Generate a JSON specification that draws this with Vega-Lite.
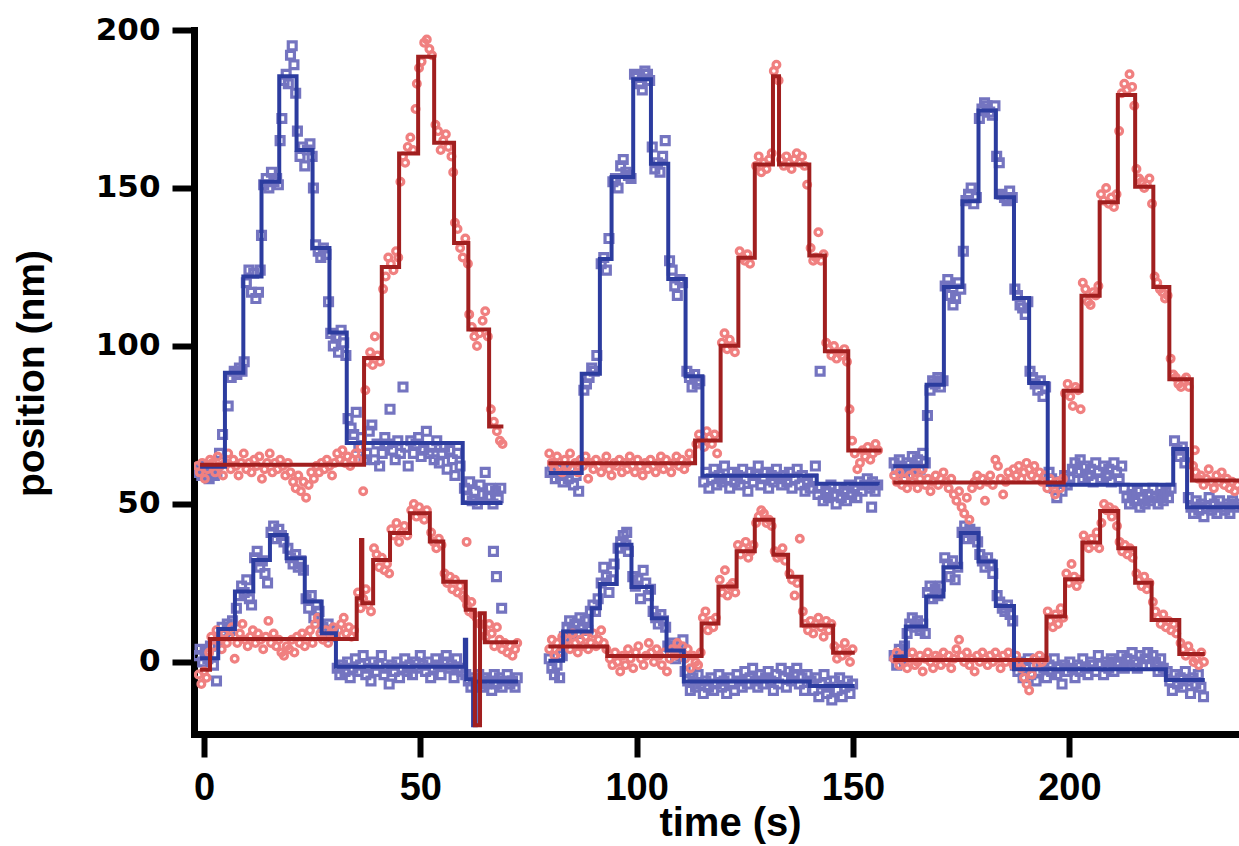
{
"$schema":"https://vega.github.io/schema/vega-lite/v6.json",
"width":1045,"height":704,
"autosize":{"type":"none"},
"padding":{"left":194,"top":30,"right":0,"bottom":112},
"background":"white",
"config":{"view":{"stroke":null}},
"datasets":{
"pts":[
{"t":-1.5,"y":60,"s":"b"},{"t":-1,"y":61,"s":"b"},{"t":-0.5,"y":59,"s":"b"},{"t":0,"y":62,"s":"b"},{"t":0.6,"y":60,"s":"b"},{"t":1.2,"y":58,"s":"b"},{"t":1.8,"y":61,"s":"b"},{"t":2.4,"y":59,"s":"b"},{"t":3,"y":60,"s":"b"},{"t":3.6,"y":66,"s":"b"},{"t":4.3,"y":72,"s":"b"},
{"t":5.6,"y":81,"s":"b"},{"t":6.3,"y":90,"s":"b"},{"t":7,"y":92,"s":"b"},{"t":7.6,"y":91,"s":"b"},{"t":8.2,"y":93,"s":"b"},{"t":8.8,"y":92,"s":"b"},{"t":9.3,"y":95,"s":"b"},
{"t":9.8,"y":120,"s":"b"},{"t":10.4,"y":124,"s":"b"},{"t":11,"y":117,"s":"b"},{"t":11.5,"y":123,"s":"b"},{"t":12,"y":115,"s":"b"},{"t":12.6,"y":117,"s":"b"},{"t":13,"y":124,"s":"b"},{"t":13.3,"y":135,"s":"b"},
{"t":13.8,"y":151,"s":"b"},{"t":14.4,"y":153,"s":"b"},{"t":15,"y":150,"s":"b"},{"t":15.6,"y":155,"s":"b"},{"t":16.2,"y":152,"s":"b"},{"t":16.8,"y":153,"s":"b"},{"t":17.2,"y":151,"s":"b"},
{"t":17.6,"y":165,"s":"b"},{"t":18,"y":172,"s":"b"},{"t":18.5,"y":184,"s":"b"},{"t":19,"y":186,"s":"b"},{"t":19.5,"y":183,"s":"b"},{"t":20,"y":192,"s":"b"},{"t":20.4,"y":195,"s":"b"},{"t":20.8,"y":189,"s":"b"},{"t":21.2,"y":180,"s":"b"},
{"t":21.6,"y":168,"s":"b"},{"t":22.2,"y":160,"s":"b"},{"t":22.8,"y":163,"s":"b"},{"t":23.3,"y":157,"s":"b"},{"t":23.9,"y":162,"s":"b"},{"t":24.5,"y":164,"s":"b"},{"t":25,"y":160,"s":"b"},
{"t":25.3,"y":150,"s":"b"},{"t":25.8,"y":132,"s":"b"},{"t":26.4,"y":130,"s":"b"},{"t":27,"y":128,"s":"b"},{"t":27.6,"y":131,"s":"b"},{"t":28.2,"y":129,"s":"b"},{"t":28.8,"y":114,"s":"b"},
{"t":29.3,"y":104,"s":"b"},{"t":29.9,"y":100,"s":"b"},{"t":30.5,"y":103,"s":"b"},{"t":31.1,"y":98,"s":"b"},{"t":31.7,"y":105,"s":"b"},{"t":32.3,"y":101,"s":"b"},{"t":32.8,"y":97,"s":"b"},
{"t":33.3,"y":77,"s":"b"},{"t":34,"y":74,"s":"b"},{"t":34.6,"y":72,"s":"b"},{"t":35.2,"y":79,"s":"b"},{"t":35.8,"y":68,"s":"b"},{"t":36.4,"y":71,"s":"b"},{"t":37,"y":64,"s":"b"},{"t":37.6,"y":66,"s":"b"},{"t":38.2,"y":73,"s":"b"},{"t":38.8,"y":75,"s":"b"},{"t":39.4,"y":64,"s":"b"},{"t":40,"y":69,"s":"b"},{"t":40.6,"y":62,"s":"b"},{"t":41.2,"y":66,"s":"b"},{"t":41.8,"y":71,"s":"b"},{"t":42.4,"y":69,"s":"b"},{"t":43,"y":80,"s":"b"},{"t":43.6,"y":67,"s":"b"},{"t":44.2,"y":64,"s":"b"},{"t":44.8,"y":70,"s":"b"},{"t":45.4,"y":66,"s":"b"},{"t":46,"y":87,"s":"b"},{"t":46.6,"y":68,"s":"b"},{"t":47.2,"y":62,"s":"b"},{"t":47.8,"y":70,"s":"b"},{"t":48.4,"y":66,"s":"b"},{"t":49,"y":69,"s":"b"},{"t":49.6,"y":71,"s":"b"},{"t":50.2,"y":65,"s":"b"},{"t":50.8,"y":67,"s":"b"},{"t":51.4,"y":73,"s":"b"},{"t":52,"y":66,"s":"b"},{"t":52.6,"y":68,"s":"b"},{"t":53.2,"y":64,"s":"b"},{"t":53.8,"y":70,"s":"b"},{"t":54.4,"y":63,"s":"b"},{"t":55,"y":66,"s":"b"},{"t":55.6,"y":68,"s":"b"},{"t":56.2,"y":61,"s":"b"},{"t":56.8,"y":67,"s":"b"},{"t":57.4,"y":64,"s":"b"},{"t":58,"y":59,"s":"b"},{"t":58.6,"y":66,"s":"b"},{"t":59.2,"y":62,"s":"b"},
{"t":60.2,"y":55,"s":"b"},{"t":60.8,"y":52,"s":"b"},{"t":61.4,"y":57,"s":"b"},{"t":62,"y":51,"s":"b"},{"t":62.6,"y":54,"s":"b"},{"t":63.2,"y":50,"s":"b"},{"t":63.8,"y":56,"s":"b"},{"t":64.4,"y":53,"s":"b"},{"t":65,"y":60,"s":"b"},{"t":65.6,"y":52,"s":"b"},{"t":66.2,"y":55,"s":"b"},{"t":66.8,"y":50,"s":"b"},{"t":67.4,"y":54,"s":"b"},{"t":68,"y":52,"s":"b"},{"t":68.6,"y":55,"s":"b"},
{"t":-1.5,"y":2,"s":"b"},{"t":-0.9,"y":4,"s":"b"},{"t":-0.3,"y":0,"s":"b"},{"t":0.3,"y":3,"s":"b"},{"t":0.9,"y":1,"s":"b"},{"t":1.5,"y":5,"s":"b"},{"t":2.2,"y":-1,"s":"b"},{"t":2.9,"y":-6,"s":"b"},
{"t":3.6,"y":7,"s":"b"},{"t":4.2,"y":11,"s":"b"},{"t":4.8,"y":9,"s":"b"},{"t":5.4,"y":12,"s":"b"},{"t":6,"y":10,"s":"b"},{"t":6.6,"y":13,"s":"b"},
{"t":7.5,"y":17,"s":"b"},{"t":8.1,"y":21,"s":"b"},{"t":8.7,"y":24,"s":"b"},{"t":9.3,"y":22,"s":"b"},{"t":9.9,"y":26,"s":"b"},{"t":10.5,"y":20,"s":"b"},{"t":11,"y":18,"s":"b"},
{"t":11.7,"y":33,"s":"b"},{"t":12.3,"y":35,"s":"b"},{"t":12.9,"y":30,"s":"b"},{"t":13.5,"y":32,"s":"b"},{"t":14.1,"y":28,"s":"b"},{"t":14.7,"y":25,"s":"b"},
{"t":15.5,"y":41,"s":"b"},{"t":16.1,"y":43,"s":"b"},{"t":16.7,"y":39,"s":"b"},{"t":17.3,"y":42,"s":"b"},{"t":17.9,"y":40,"s":"b"},{"t":18.5,"y":38,"s":"b"},
{"t":19.4,"y":36,"s":"b"},{"t":20,"y":33,"s":"b"},{"t":20.6,"y":31,"s":"b"},{"t":21.2,"y":34,"s":"b"},{"t":21.8,"y":30,"s":"b"},{"t":22.4,"y":32,"s":"b"},{"t":23,"y":29,"s":"b"},
{"t":23.6,"y":20,"s":"b"},{"t":24.2,"y":17,"s":"b"},{"t":24.8,"y":21,"s":"b"},{"t":25.4,"y":14,"s":"b"},{"t":26,"y":18,"s":"b"},{"t":26.6,"y":16,"s":"b"},
{"t":27.5,"y":11,"s":"b"},{"t":28.1,"y":9,"s":"b"},{"t":28.7,"y":12,"s":"b"},{"t":29.3,"y":8,"s":"b"},{"t":29.9,"y":10,"s":"b"},
{"t":30.8,"y":-2,"s":"b"},{"t":31.4,"y":-4,"s":"b"},{"t":32,"y":-1,"s":"b"},{"t":32.6,"y":-3,"s":"b"},{"t":33.2,"y":0,"s":"b"},{"t":33.8,"y":-5,"s":"b"},{"t":34.4,"y":-2,"s":"b"},{"t":35,"y":1,"s":"b"},{"t":35.6,"y":-3,"s":"b"},{"t":36.2,"y":-1,"s":"b"},{"t":36.8,"y":2,"s":"b"},{"t":37.4,"y":-4,"s":"b"},{"t":38,"y":-2,"s":"b"},{"t":38.6,"y":-6,"s":"b"},{"t":39.2,"y":0,"s":"b"},{"t":39.8,"y":-3,"s":"b"},{"t":40.4,"y":-1,"s":"b"},{"t":41,"y":2,"s":"b"},{"t":41.6,"y":-4,"s":"b"},{"t":42.2,"y":-2,"s":"b"},{"t":42.8,"y":-7,"s":"b"},{"t":43.4,"y":-1,"s":"b"},{"t":44,"y":-3,"s":"b"},{"t":44.6,"y":0,"s":"b"},{"t":45.2,"y":-5,"s":"b"},{"t":45.8,"y":-2,"s":"b"},{"t":46.4,"y":1,"s":"b"},{"t":47,"y":-3,"s":"b"},{"t":47.6,"y":-1,"s":"b"},{"t":48.2,"y":-4,"s":"b"},{"t":48.8,"y":0,"s":"b"},{"t":49.4,"y":-2,"s":"b"},{"t":50,"y":2,"s":"b"},{"t":50.6,"y":-1,"s":"b"},{"t":51.2,"y":-3,"s":"b"},{"t":51.8,"y":0,"s":"b"},{"t":52.4,"y":-5,"s":"b"},{"t":53,"y":-2,"s":"b"},{"t":53.6,"y":1,"s":"b"},{"t":54.2,"y":-1,"s":"b"},{"t":54.8,"y":-4,"s":"b"},{"t":55.4,"y":0,"s":"b"},{"t":56,"y":2,"s":"b"},{"t":56.6,"y":-2,"s":"b"},{"t":57.2,"y":-1,"s":"b"},{"t":57.8,"y":-5,"s":"b"},{"t":58.4,"y":1,"s":"b"},{"t":59,"y":-2,"s":"b"},{"t":59.6,"y":-3,"s":"b"},
{"t":60.5,"y":-4,"s":"b"},{"t":61.1,"y":-6,"s":"b"},{"t":61.7,"y":-8,"s":"b"},{"t":62.3,"y":-5,"s":"b"},{"t":62.9,"y":-7,"s":"b"},{"t":63.5,"y":-4,"s":"b"},{"t":64.1,"y":-8,"s":"b"},{"t":64.7,"y":-5,"s":"b"},{"t":65.3,"y":-7,"s":"b"},{"t":65.9,"y":-6,"s":"b"},{"t":66.5,"y":-9,"s":"b"},{"t":66.9,"y":35,"s":"b"},{"t":67.1,"y":-4,"s":"b"},{"t":67.6,"y":27,"s":"b"},{"t":67.7,"y":-7,"s":"b"},{"t":68.3,"y":-5,"s":"b"},{"t":68.8,"y":17,"s":"b"},{"t":68.9,"y":-8,"s":"b"},{"t":69.5,"y":-6,"s":"b"},{"t":70.1,"y":-4,"s":"b"},{"t":70.7,"y":-7,"s":"b"},{"t":71.3,"y":-6,"s":"b"},{"t":71.9,"y":-8,"s":"b"},{"t":72.4,"y":-5,"s":"b"},
{"t":80,"y":60,"s":"b"},{"t":80.6,"y":62,"s":"b"},{"t":81.2,"y":58,"s":"b"},{"t":81.8,"y":61,"s":"b"},{"t":82.4,"y":59,"s":"b"},{"t":83,"y":57,"s":"b"},{"t":83.6,"y":60,"s":"b"},{"t":84.2,"y":58,"s":"b"},{"t":84.8,"y":61,"s":"b"},{"t":85.4,"y":56,"s":"b"},{"t":86,"y":59,"s":"b"},{"t":86.6,"y":54,"s":"b"},
{"t":87.8,"y":86,"s":"b"},{"t":88.4,"y":88,"s":"b"},{"t":89,"y":90,"s":"b"},{"t":89.6,"y":93,"s":"b"},{"t":90.2,"y":92,"s":"b"},{"t":90.8,"y":97,"s":"b"},
{"t":91.8,"y":126,"s":"b"},{"t":92.4,"y":128,"s":"b"},{"t":93,"y":124,"s":"b"},{"t":93.6,"y":134,"s":"b"},
{"t":94.5,"y":152,"s":"b"},{"t":95.1,"y":153,"s":"b"},{"t":95.7,"y":150,"s":"b"},{"t":96.3,"y":157,"s":"b"},{"t":96.9,"y":159,"s":"b"},{"t":97.5,"y":155,"s":"b"},{"t":98.1,"y":154,"s":"b"},{"t":98.7,"y":153,"s":"b"},
{"t":99.5,"y":186,"s":"b"},{"t":100.1,"y":185,"s":"b"},{"t":100.7,"y":183,"s":"b"},{"t":101.3,"y":181,"s":"b"},{"t":101.9,"y":187,"s":"b"},{"t":102.5,"y":186,"s":"b"},{"t":103,"y":184,"s":"b"},
{"t":103.6,"y":163,"s":"b"},{"t":104.2,"y":156,"s":"b"},{"t":104.8,"y":158,"s":"b"},{"t":105.4,"y":155,"s":"b"},{"t":106,"y":160,"s":"b"},{"t":106.6,"y":165,"s":"b"},
{"t":107.6,"y":127,"s":"b"},{"t":108.2,"y":124,"s":"b"},{"t":108.8,"y":119,"s":"b"},{"t":109.4,"y":116,"s":"b"},{"t":110,"y":121,"s":"b"},{"t":110.6,"y":120,"s":"b"},
{"t":111.6,"y":92,"s":"b"},{"t":112.2,"y":90,"s":"b"},{"t":112.8,"y":87,"s":"b"},{"t":113.4,"y":91,"s":"b"},{"t":114,"y":88,"s":"b"},{"t":114.6,"y":89,"s":"b"},
{"t":115.5,"y":57,"s":"b"},{"t":116.1,"y":60,"s":"b"},{"t":116.7,"y":55,"s":"b"},{"t":117.3,"y":58,"s":"b"},{"t":117.9,"y":61,"s":"b"},{"t":118.5,"y":56,"s":"b"},{"t":119.1,"y":59,"s":"b"},{"t":119.7,"y":57,"s":"b"},{"t":120.3,"y":62,"s":"b"},{"t":120.9,"y":58,"s":"b"},{"t":121.5,"y":55,"s":"b"},{"t":122.1,"y":60,"s":"b"},{"t":122.7,"y":57,"s":"b"},{"t":123.3,"y":59,"s":"b"},{"t":123.9,"y":56,"s":"b"},{"t":124.5,"y":61,"s":"b"},{"t":125.1,"y":58,"s":"b"},{"t":125.7,"y":54,"s":"b"},{"t":126.3,"y":60,"s":"b"},{"t":126.9,"y":57,"s":"b"},{"t":127.5,"y":59,"s":"b"},{"t":128.1,"y":62,"s":"b"},{"t":128.7,"y":56,"s":"b"},{"t":129.3,"y":58,"s":"b"},{"t":129.9,"y":60,"s":"b"},{"t":130.5,"y":55,"s":"b"},{"t":131.1,"y":59,"s":"b"},{"t":131.7,"y":57,"s":"b"},{"t":132.3,"y":61,"s":"b"},{"t":132.9,"y":58,"s":"b"},{"t":133.5,"y":56,"s":"b"},{"t":134.1,"y":59,"s":"b"},{"t":134.7,"y":57,"s":"b"},{"t":135.3,"y":60,"s":"b"},{"t":135.9,"y":55,"s":"b"},{"t":136.5,"y":58,"s":"b"},{"t":137.1,"y":61,"s":"b"},{"t":137.7,"y":56,"s":"b"},{"t":138.3,"y":59,"s":"b"},{"t":138.9,"y":54,"s":"b"},{"t":139.5,"y":57,"s":"b"},{"t":140.1,"y":55,"s":"b"},{"t":140.7,"y":58,"s":"b"},{"t":141.3,"y":62,"s":"b"},{"t":142.4,"y":92,"s":"b"},
{"t":141.9,"y":53,"s":"b"},{"t":142.5,"y":55,"s":"b"},{"t":143.1,"y":51,"s":"b"},{"t":143.7,"y":54,"s":"b"},{"t":144.3,"y":52,"s":"b"},{"t":144.9,"y":56,"s":"b"},{"t":145.5,"y":53,"s":"b"},{"t":146.1,"y":50,"s":"b"},{"t":146.7,"y":55,"s":"b"},{"t":147.3,"y":52,"s":"b"},{"t":147.9,"y":54,"s":"b"},{"t":148.5,"y":51,"s":"b"},{"t":149.1,"y":56,"s":"b"},{"t":149.7,"y":53,"s":"b"},{"t":150.3,"y":55,"s":"b"},{"t":150.9,"y":52,"s":"b"},{"t":151.5,"y":57,"s":"b"},{"t":152.1,"y":54,"s":"b"},{"t":152.7,"y":56,"s":"b"},{"t":153.3,"y":58,"s":"b"},{"t":153.9,"y":55,"s":"b"},{"t":154.3,"y":49,"s":"b"},{"t":154.5,"y":57,"s":"b"},{"t":155.1,"y":54,"s":"b"},{"t":155.7,"y":56,"s":"b"},
{"t":79.8,"y":1,"s":"b"},{"t":80.4,"y":-2,"s":"b"},{"t":81,"y":-4,"s":"b"},{"t":81.6,"y":-1,"s":"b"},{"t":82.2,"y":-5,"s":"b"},{"t":82.8,"y":2,"s":"b"},
{"t":83.3,"y":8,"s":"b"},{"t":83.9,"y":11,"s":"b"},{"t":84.5,"y":13,"s":"b"},{"t":85.1,"y":10,"s":"b"},{"t":85.7,"y":12,"s":"b"},{"t":86.3,"y":9,"s":"b"},{"t":86.9,"y":14,"s":"b"},{"t":87.5,"y":11,"s":"b"},{"t":88.1,"y":13,"s":"b"},{"t":88.7,"y":10,"s":"b"},{"t":89.3,"y":16,"s":"b"},
{"t":89.9,"y":18,"s":"b"},{"t":90.5,"y":16,"s":"b"},{"t":91.1,"y":20,"s":"b"},
{"t":91.8,"y":25,"s":"b"},{"t":92.4,"y":30,"s":"b"},{"t":93,"y":27,"s":"b"},{"t":93.6,"y":22,"s":"b"},{"t":94.2,"y":26,"s":"b"},{"t":94.8,"y":31,"s":"b"},
{"t":95.7,"y":36,"s":"b"},{"t":96.3,"y":38,"s":"b"},{"t":96.9,"y":40,"s":"b"},{"t":97.5,"y":37,"s":"b"},{"t":97.7,"y":41,"s":"b"},{"t":98.1,"y":35,"s":"b"},
{"t":99.1,"y":27,"s":"b"},{"t":99.7,"y":24,"s":"b"},{"t":100.3,"y":26,"s":"b"},{"t":100.9,"y":20,"s":"b"},{"t":101.5,"y":29,"s":"b"},{"t":102.1,"y":25,"s":"b"},{"t":102.7,"y":21,"s":"b"},{"t":103.2,"y":23,"s":"b"},
{"t":103.8,"y":16,"s":"b"},{"t":104.4,"y":14,"s":"b"},{"t":105,"y":12,"s":"b"},{"t":105.6,"y":15,"s":"b"},{"t":106.2,"y":13,"s":"b"},{"t":106.7,"y":11,"s":"b"},
{"t":107.2,"y":5,"s":"b"},{"t":107.8,"y":3,"s":"b"},{"t":108.4,"y":6,"s":"b"},{"t":109,"y":1,"s":"b"},{"t":109.6,"y":4,"s":"b"},{"t":110.2,"y":2,"s":"b"},{"t":110.7,"y":7,"s":"b"},
{"t":111.2,"y":-3,"s":"b"},{"t":111.8,"y":-6,"s":"b"},{"t":112.4,"y":-9,"s":"b"},{"t":113,"y":-5,"s":"b"},{"t":113.6,"y":-8,"s":"b"},{"t":114.2,"y":-4,"s":"b"},{"t":114.8,"y":-7,"s":"b"},{"t":115.4,"y":-10,"s":"b"},{"t":116,"y":-6,"s":"b"},{"t":116.6,"y":-8,"s":"b"},{"t":117.2,"y":-5,"s":"b"},{"t":117.8,"y":-9,"s":"b"},{"t":118.4,"y":-7,"s":"b"},{"t":119,"y":-4,"s":"b"},{"t":119.6,"y":-8,"s":"b"},{"t":120.2,"y":-6,"s":"b"},{"t":120.8,"y":-10,"s":"b"},{"t":121.4,"y":-5,"s":"b"},{"t":122,"y":-7,"s":"b"},{"t":122.6,"y":-9,"s":"b"},{"t":123.2,"y":-4,"s":"b"},{"t":123.8,"y":-6,"s":"b"},{"t":124.4,"y":-8,"s":"b"},{"t":125,"y":-3,"s":"b"},{"t":125.6,"y":-7,"s":"b"},{"t":126.2,"y":-5,"s":"b"},{"t":126.8,"y":-2,"s":"b"},{"t":127.4,"y":-6,"s":"b"},{"t":128,"y":-8,"s":"b"},{"t":128.6,"y":-4,"s":"b"},{"t":129.2,"y":-7,"s":"b"},{"t":129.8,"y":-5,"s":"b"},{"t":130.4,"y":-3,"s":"b"},{"t":131,"y":-6,"s":"b"},{"t":131.6,"y":-9,"s":"b"},{"t":132.2,"y":-4,"s":"b"},{"t":132.8,"y":-7,"s":"b"},{"t":133.4,"y":-2,"s":"b"},{"t":134,"y":-5,"s":"b"},{"t":134.6,"y":-8,"s":"b"},{"t":135.2,"y":-3,"s":"b"},{"t":135.8,"y":-6,"s":"b"},{"t":136.4,"y":-4,"s":"b"},{"t":137,"y":-2,"s":"b"},{"t":137.6,"y":-7,"s":"b"},{"t":138.2,"y":-5,"s":"b"},{"t":138.8,"y":-9,"s":"b"},{"t":139.4,"y":-4,"s":"b"},
{"t":140.3,"y":-6,"s":"b"},{"t":140.9,"y":-9,"s":"b"},{"t":141.5,"y":-5,"s":"b"},{"t":142.1,"y":-11,"s":"b"},{"t":142.7,"y":-7,"s":"b"},{"t":143.3,"y":-4,"s":"b"},{"t":143.9,"y":-10,"s":"b"},{"t":144.5,"y":-8,"s":"b"},{"t":145.1,"y":-12,"s":"b"},{"t":145.7,"y":-6,"s":"b"},{"t":146.3,"y":-9,"s":"b"},{"t":146.9,"y":-5,"s":"b"},{"t":147.5,"y":-11,"s":"b"},{"t":148.1,"y":-8,"s":"b"},{"t":148.7,"y":-6,"s":"b"},{"t":149.3,"y":-10,"s":"b"},{"t":149.9,"y":-7,"s":"b"},
{"t":159.5,"y":63,"s":"b"},{"t":160.1,"y":61,"s":"b"},{"t":160.7,"y":64,"s":"b"},{"t":161.3,"y":62,"s":"b"},{"t":161.9,"y":60,"s":"b"},{"t":162.5,"y":63,"s":"b"},{"t":163.1,"y":61,"s":"b"},{"t":163.7,"y":65,"s":"b"},{"t":164.3,"y":62,"s":"b"},{"t":164.9,"y":64,"s":"b"},{"t":165.5,"y":61,"s":"b"},{"t":166.1,"y":66,"s":"b"},{"t":166.7,"y":63,"s":"b"},
{"t":167.2,"y":78,"s":"b"},{"t":167.8,"y":86,"s":"b"},{"t":168.4,"y":89,"s":"b"},{"t":169,"y":88,"s":"b"},{"t":169.6,"y":90,"s":"b"},{"t":170.2,"y":87,"s":"b"},{"t":170.8,"y":89,"s":"b"},
{"t":171.3,"y":119,"s":"b"},{"t":171.9,"y":121,"s":"b"},{"t":172.5,"y":116,"s":"b"},{"t":173.1,"y":113,"s":"b"},{"t":173.7,"y":115,"s":"b"},{"t":174.3,"y":120,"s":"b"},{"t":174.9,"y":118,"s":"b"},
{"t":175.5,"y":130,"s":"b"},{"t":176.1,"y":146,"s":"b"},{"t":176.7,"y":148,"s":"b"},{"t":177.3,"y":150,"s":"b"},{"t":177.9,"y":145,"s":"b"},{"t":178.5,"y":147,"s":"b"},
{"t":179.2,"y":172,"s":"b"},{"t":179.8,"y":175,"s":"b"},{"t":180.4,"y":177,"s":"b"},{"t":181,"y":176,"s":"b"},{"t":181.6,"y":174,"s":"b"},{"t":182.2,"y":173,"s":"b"},{"t":182.8,"y":176,"s":"b"},
{"t":183.2,"y":160,"s":"b"},{"t":183.8,"y":158,"s":"b"},{"t":184.4,"y":148,"s":"b"},{"t":185,"y":147,"s":"b"},{"t":185.6,"y":146,"s":"b"},{"t":186.2,"y":149,"s":"b"},{"t":186.8,"y":147,"s":"b"},
{"t":187.4,"y":118,"s":"b"},{"t":188,"y":116,"s":"b"},{"t":188.6,"y":113,"s":"b"},{"t":189.2,"y":112,"s":"b"},{"t":189.8,"y":110,"s":"b"},{"t":190.4,"y":114,"s":"b"},
{"t":190.9,"y":92,"s":"b"},{"t":191.5,"y":90,"s":"b"},{"t":192.1,"y":88,"s":"b"},{"t":192.7,"y":86,"s":"b"},{"t":193.3,"y":89,"s":"b"},{"t":193.9,"y":84,"s":"b"},{"t":194.5,"y":87,"s":"b"},
{"t":195.3,"y":60,"s":"b"},{"t":195.9,"y":58,"s":"b"},{"t":196.5,"y":55,"s":"b"},{"t":197.1,"y":52,"s":"b"},{"t":197.7,"y":57,"s":"b"},{"t":198.3,"y":54,"s":"b"},{"t":198.9,"y":59,"s":"b"},{"t":199.5,"y":56,"s":"b"},{"t":200.1,"y":58,"s":"b"},{"t":200.7,"y":61,"s":"b"},{"t":201.3,"y":63,"s":"b"},{"t":201.9,"y":60,"s":"b"},{"t":202.5,"y":64,"s":"b"},{"t":203.1,"y":58,"s":"b"},{"t":203.7,"y":62,"s":"b"},{"t":204.3,"y":59,"s":"b"},{"t":204.9,"y":61,"s":"b"},{"t":205.5,"y":57,"s":"b"},{"t":206.1,"y":63,"s":"b"},{"t":206.7,"y":60,"s":"b"},{"t":207.3,"y":58,"s":"b"},{"t":207.9,"y":62,"s":"b"},{"t":208.5,"y":59,"s":"b"},{"t":209.1,"y":61,"s":"b"},{"t":209.7,"y":57,"s":"b"},{"t":210.3,"y":63,"s":"b"},{"t":210.9,"y":60,"s":"b"},{"t":211.5,"y":58,"s":"b"},{"t":212.1,"y":62,"s":"b"},{"t":212.7,"y":55,"s":"b"},{"t":213.3,"y":52,"s":"b"},{"t":213.9,"y":50,"s":"b"},{"t":214.5,"y":53,"s":"b"},{"t":215.1,"y":51,"s":"b"},{"t":215.7,"y":54,"s":"b"},{"t":216.3,"y":49,"s":"b"},{"t":216.9,"y":52,"s":"b"},{"t":217.5,"y":50,"s":"b"},{"t":218.1,"y":53,"s":"b"},{"t":218.7,"y":51,"s":"b"},{"t":219.3,"y":55,"s":"b"},{"t":219.9,"y":52,"s":"b"},{"t":220.5,"y":50,"s":"b"},{"t":221.1,"y":53,"s":"b"},{"t":221.7,"y":51,"s":"b"},{"t":222.3,"y":54,"s":"b"},{"t":222.9,"y":52,"s":"b"},{"t":223.5,"y":55,"s":"b"},
{"t":224.3,"y":70,"s":"b"},{"t":224.9,"y":67,"s":"b"},{"t":225.5,"y":65,"s":"b"},{"t":226.1,"y":68,"s":"b"},{"t":226.7,"y":63,"s":"b"},
{"t":227.5,"y":52,"s":"b"},{"t":228.1,"y":49,"s":"b"},{"t":228.7,"y":47,"s":"b"},{"t":229.3,"y":51,"s":"b"},{"t":229.9,"y":48,"s":"b"},{"t":230.5,"y":50,"s":"b"},{"t":231.1,"y":46,"s":"b"},{"t":231.7,"y":49,"s":"b"},{"t":232.3,"y":52,"s":"b"},{"t":232.9,"y":48,"s":"b"},{"t":233.5,"y":50,"s":"b"},{"t":234.1,"y":47,"s":"b"},{"t":234.7,"y":51,"s":"b"},{"t":235.3,"y":49,"s":"b"},{"t":235.9,"y":48,"s":"b"},{"t":236.5,"y":50,"s":"b"},{"t":237.1,"y":47,"s":"b"},{"t":237.7,"y":51,"s":"b"},{"t":238.3,"y":49,"s":"b"},{"t":238.9,"y":50,"s":"b"},
{"t":159.5,"y":2,"s":"b"},{"t":160.1,"y":-1,"s":"b"},{"t":160.7,"y":4,"s":"b"},{"t":161.3,"y":1,"s":"b"},{"t":161.9,"y":5,"s":"b"},
{"t":162.5,"y":9,"s":"b"},{"t":163.1,"y":12,"s":"b"},{"t":163.7,"y":14,"s":"b"},{"t":164.3,"y":11,"s":"b"},{"t":164.9,"y":13,"s":"b"},{"t":165.5,"y":10,"s":"b"},{"t":166.1,"y":12,"s":"b"},{"t":166.7,"y":9,"s":"b"},
{"t":167.2,"y":22,"s":"b"},{"t":167.8,"y":24,"s":"b"},{"t":168.4,"y":20,"s":"b"},{"t":169,"y":23,"s":"b"},{"t":169.6,"y":21,"s":"b"},{"t":170.2,"y":24,"s":"b"},
{"t":171.2,"y":33,"s":"b"},{"t":171.8,"y":31,"s":"b"},{"t":172.4,"y":27,"s":"b"},{"t":173,"y":32,"s":"b"},{"t":173.6,"y":26,"s":"b"},{"t":174.2,"y":30,"s":"b"},
{"t":175.2,"y":41,"s":"b"},{"t":175.8,"y":43,"s":"b"},{"t":176.4,"y":39,"s":"b"},{"t":177,"y":42,"s":"b"},{"t":177.6,"y":40,"s":"b"},{"t":178.2,"y":41,"s":"b"},{"t":178.8,"y":38,"s":"b"},
{"t":179.3,"y":34,"s":"b"},{"t":179.9,"y":32,"s":"b"},{"t":180.5,"y":30,"s":"b"},{"t":181.1,"y":33,"s":"b"},{"t":181.7,"y":31,"s":"b"},{"t":182.3,"y":28,"s":"b"},
{"t":183.3,"y":21,"s":"b"},{"t":183.9,"y":19,"s":"b"},{"t":184.5,"y":17,"s":"b"},{"t":185.1,"y":16,"s":"b"},{"t":185.7,"y":18,"s":"b"},{"t":186.3,"y":15,"s":"b"},{"t":186.9,"y":13,"s":"b"},
{"t":187.5,"y":-1,"s":"b"},{"t":188.1,"y":-3,"s":"b"},{"t":188.7,"y":0,"s":"b"},{"t":189.3,"y":-5,"s":"b"},{"t":189.9,"y":-2,"s":"b"},{"t":190.5,"y":1,"s":"b"},{"t":191.1,"y":-4,"s":"b"},{"t":191.7,"y":-1,"s":"b"},{"t":192.3,"y":-6,"s":"b"},{"t":192.9,"y":-3,"s":"b"},{"t":193.5,"y":0,"s":"b"},{"t":194.1,"y":-2,"s":"b"},{"t":194.7,"y":-5,"s":"b"},{"t":195.3,"y":-1,"s":"b"},{"t":195.9,"y":-3,"s":"b"},{"t":196.5,"y":1,"s":"b"},{"t":197.1,"y":-4,"s":"b"},{"t":197.7,"y":-2,"s":"b"},{"t":198.3,"y":-7,"s":"b"},{"t":198.9,"y":-1,"s":"b"},{"t":199.5,"y":-3,"s":"b"},{"t":200.1,"y":0,"s":"b"},{"t":200.7,"y":-2,"s":"b"},{"t":201.3,"y":-5,"s":"b"},{"t":201.9,"y":-1,"s":"b"},{"t":202.5,"y":-3,"s":"b"},{"t":203.1,"y":1,"s":"b"},{"t":203.7,"y":-2,"s":"b"},{"t":204.3,"y":-4,"s":"b"},{"t":204.9,"y":0,"s":"b"},{"t":205.5,"y":-1,"s":"b"},{"t":206.1,"y":-3,"s":"b"},{"t":206.7,"y":2,"s":"b"},{"t":207.3,"y":-1,"s":"b"},{"t":207.9,"y":-4,"s":"b"},{"t":208.5,"y":0,"s":"b"},{"t":209.1,"y":-2,"s":"b"},{"t":209.7,"y":1,"s":"b"},{"t":210.3,"y":-3,"s":"b"},{"t":210.9,"y":0,"s":"b"},{"t":211.5,"y":-1,"s":"b"},{"t":212.1,"y":2,"s":"b"},{"t":212.7,"y":-2,"s":"b"},{"t":213.3,"y":1,"s":"b"},{"t":213.9,"y":-1,"s":"b"},{"t":214.5,"y":3,"s":"b"},{"t":215.1,"y":0,"s":"b"},{"t":215.7,"y":-2,"s":"b"},{"t":216.3,"y":2,"s":"b"},{"t":216.9,"y":-1,"s":"b"},{"t":217.5,"y":1,"s":"b"},{"t":218.1,"y":3,"s":"b"},{"t":218.7,"y":-1,"s":"b"},{"t":219.3,"y":2,"s":"b"},{"t":219.9,"y":0,"s":"b"},{"t":220.5,"y":-3,"s":"b"},{"t":221.1,"y":1,"s":"b"},{"t":221.7,"y":-2,"s":"b"},
{"t":222.6,"y":-3,"s":"b"},{"t":223.2,"y":-6,"s":"b"},{"t":223.8,"y":-9,"s":"b"},{"t":224.4,"y":-4,"s":"b"},{"t":225,"y":-7,"s":"b"},{"t":225.6,"y":-5,"s":"b"},{"t":226.2,"y":-8,"s":"b"},{"t":226.8,"y":-3,"s":"b"},{"t":227.4,"y":-6,"s":"b"},{"t":228,"y":-10,"s":"b"},{"t":228.6,"y":-5,"s":"b"},{"t":229.2,"y":-7,"s":"b"},{"t":229.8,"y":-4,"s":"b"},{"t":230.4,"y":-8,"s":"b"},{"t":231,"y":-11,"s":"b"},
{"t":-1.5,"y":62,"s":"r"},{"t":-1,"y":60,"s":"r"},{"t":-0.4,"y":63,"s":"r"},{"t":0.2,"y":58,"s":"r"},{"t":0.8,"y":61,"s":"r"},{"t":1.4,"y":64,"s":"r"},{"t":2,"y":63,"s":"r"},{"t":2.6,"y":60,"s":"r"},{"t":3.2,"y":65,"s":"r"},{"t":3.8,"y":62,"s":"r"},{"t":4.4,"y":59,"s":"r"},{"t":5,"y":63,"s":"r"},{"t":5.6,"y":66,"s":"r"},{"t":6.2,"y":61,"s":"r"},{"t":6.8,"y":64,"s":"r"},{"t":7.4,"y":62,"s":"r"},{"t":8,"y":59,"s":"r"},{"t":8.6,"y":63,"s":"r"},{"t":9.2,"y":66,"s":"r"},{"t":9.8,"y":61,"s":"r"},{"t":10.4,"y":63,"s":"r"},{"t":11,"y":60,"s":"r"},{"t":11.6,"y":64,"s":"r"},{"t":12.2,"y":62,"s":"r"},{"t":12.8,"y":65,"s":"r"},{"t":13.4,"y":58,"s":"r"},{"t":14,"y":61,"s":"r"},{"t":14.6,"y":63,"s":"r"},{"t":15.2,"y":66,"s":"r"},{"t":15.8,"y":60,"s":"r"},{"t":16.4,"y":63,"s":"r"},{"t":17,"y":61,"s":"r"},{"t":17.6,"y":64,"s":"r"},{"t":18.2,"y":62,"s":"r"},{"t":18.8,"y":59,"s":"r"},{"t":19.4,"y":63,"s":"r"},{"t":20,"y":60,"s":"r"},{"t":20.6,"y":57,"s":"r"},{"t":21.2,"y":55,"s":"r"},{"t":21.8,"y":59,"s":"r"},{"t":22.4,"y":54,"s":"r"},{"t":23,"y":57,"s":"r"},{"t":23.6,"y":52,"s":"r"},{"t":24.2,"y":56,"s":"r"},{"t":24.8,"y":60,"s":"r"},{"t":25.4,"y":58,"s":"r"},{"t":26,"y":62,"s":"r"},{"t":26.6,"y":60,"s":"r"},{"t":27.2,"y":63,"s":"r"},{"t":27.8,"y":61,"s":"r"},{"t":28.4,"y":64,"s":"r"},{"t":29,"y":62,"s":"r"},{"t":29.6,"y":59,"s":"r"},{"t":30.2,"y":63,"s":"r"},{"t":30.8,"y":66,"s":"r"},{"t":31.4,"y":64,"s":"r"},{"t":32,"y":67,"s":"r"},{"t":32.6,"y":63,"s":"r"},{"t":33.2,"y":65,"s":"r"},{"t":33.8,"y":62,"s":"r"},{"t":34.4,"y":64,"s":"r"},{"t":35,"y":66,"s":"r"},{"t":35.6,"y":64,"s":"r"},{"t":36.2,"y":68,"s":"r"},{"t":36.8,"y":54,"s":"r"},
{"t":37.3,"y":86,"s":"r"},{"t":37.8,"y":95,"s":"r"},{"t":38.4,"y":98,"s":"r"},{"t":39,"y":94,"s":"r"},{"t":39.5,"y":103,"s":"r"},{"t":40.1,"y":97,"s":"r"},{"t":40.7,"y":95,"s":"r"},
{"t":41.4,"y":118,"s":"r"},{"t":42,"y":122,"s":"r"},{"t":42.6,"y":128,"s":"r"},{"t":43.2,"y":126,"s":"r"},{"t":43.8,"y":124,"s":"r"},{"t":44.4,"y":130,"s":"r"},{"t":44.9,"y":128,"s":"r"},
{"t":45.4,"y":152,"s":"r"},{"t":46,"y":160,"s":"r"},{"t":46.5,"y":158,"s":"r"},{"t":47.1,"y":163,"s":"r"},{"t":47.7,"y":166,"s":"r"},{"t":48.3,"y":162,"s":"r"},{"t":48.9,"y":175,"s":"r"},{"t":49.2,"y":183,"s":"r"},
{"t":49.7,"y":188,"s":"r"},{"t":50.3,"y":190,"s":"r"},{"t":50.9,"y":196,"s":"r"},{"t":51.5,"y":197,"s":"r"},{"t":52.1,"y":194,"s":"r"},{"t":52.7,"y":192,"s":"r"},
{"t":53.5,"y":170,"s":"r"},{"t":54.1,"y":168,"s":"r"},{"t":54.7,"y":162,"s":"r"},{"t":55.3,"y":165,"s":"r"},{"t":55.9,"y":167,"s":"r"},{"t":56.5,"y":163,"s":"r"},{"t":57.2,"y":160,"s":"r"},{"t":57.6,"y":155,"s":"r"},
{"t":58,"y":139,"s":"r"},{"t":58.6,"y":137,"s":"r"},{"t":59.2,"y":131,"s":"r"},{"t":59.8,"y":128,"s":"r"},{"t":60.4,"y":134,"s":"r"},{"t":61,"y":126,"s":"r"},
{"t":61.3,"y":110,"s":"r"},{"t":61.9,"y":106,"s":"r"},{"t":62.5,"y":103,"s":"r"},{"t":63.1,"y":100,"s":"r"},{"t":63.7,"y":104,"s":"r"},{"t":64.4,"y":108,"s":"r"},{"t":65,"y":111,"s":"r"},{"t":65.6,"y":103,"s":"r"},
{"t":66.3,"y":80,"s":"r"},{"t":67,"y":76,"s":"r"},{"t":67.7,"y":73,"s":"r"},{"t":68.4,"y":70,"s":"r"},{"t":69,"y":69,"s":"r"},
{"t":-1.2,"y":-4,"s":"r"},{"t":-0.6,"y":-7,"s":"r"},{"t":0,"y":-3,"s":"r"},{"t":0.6,"y":-5,"s":"r"},{"t":1.2,"y":3,"s":"r"},
{"t":1.7,"y":8,"s":"r"},{"t":2.3,"y":5,"s":"r"},{"t":2.9,"y":10,"s":"r"},{"t":3.5,"y":7,"s":"r"},{"t":4.1,"y":4,"s":"r"},{"t":4.7,"y":9,"s":"r"},{"t":5.3,"y":6,"s":"r"},{"t":5.9,"y":8,"s":"r"},{"t":6.5,"y":11,"s":"r"},{"t":7.1,"y":1,"s":"r"},{"t":7.7,"y":6,"s":"r"},{"t":8.3,"y":9,"s":"r"},{"t":8.9,"y":12,"s":"r"},{"t":9.5,"y":7,"s":"r"},{"t":10.1,"y":5,"s":"r"},{"t":10.7,"y":8,"s":"r"},{"t":11.3,"y":10,"s":"r"},{"t":11.9,"y":6,"s":"r"},{"t":12.5,"y":9,"s":"r"},{"t":13.1,"y":7,"s":"r"},{"t":13.7,"y":4,"s":"r"},{"t":14.3,"y":8,"s":"r"},{"t":14.9,"y":13,"s":"r"},{"t":15.5,"y":6,"s":"r"},{"t":16.1,"y":9,"s":"r"},{"t":16.7,"y":5,"s":"r"},{"t":17.3,"y":7,"s":"r"},{"t":17.9,"y":3,"s":"r"},{"t":18.5,"y":2,"s":"r"},{"t":19.1,"y":5,"s":"r"},{"t":19.7,"y":4,"s":"r"},{"t":20.3,"y":7,"s":"r"},{"t":20.9,"y":3,"s":"r"},{"t":21.5,"y":8,"s":"r"},{"t":22.1,"y":6,"s":"r"},{"t":22.7,"y":9,"s":"r"},{"t":23.3,"y":5,"s":"r"},{"t":23.9,"y":8,"s":"r"},{"t":24.5,"y":10,"s":"r"},{"t":25.1,"y":6,"s":"r"},{"t":25.7,"y":12,"s":"r"},{"t":26.3,"y":14,"s":"r"},{"t":26.9,"y":9,"s":"r"},{"t":27.5,"y":7,"s":"r"},{"t":28.1,"y":10,"s":"r"},{"t":28.7,"y":6,"s":"r"},{"t":29.3,"y":9,"s":"r"},{"t":29.9,"y":11,"s":"r"},{"t":30.5,"y":8,"s":"r"},{"t":31.1,"y":10,"s":"r"},{"t":31.7,"y":12,"s":"r"},{"t":32.3,"y":14,"s":"r"},{"t":32.9,"y":9,"s":"r"},{"t":33.5,"y":11,"s":"r"},{"t":34.1,"y":8,"s":"r"},{"t":34.7,"y":10,"s":"r"},
{"t":35.6,"y":22,"s":"r"},{"t":36.2,"y":17,"s":"r"},{"t":36.8,"y":20,"s":"r"},{"t":37.4,"y":23,"s":"r"},{"t":38,"y":18,"s":"r"},{"t":38.6,"y":16,"s":"r"},
{"t":39.3,"y":36,"s":"r"},{"t":39.9,"y":34,"s":"r"},{"t":40.5,"y":30,"s":"r"},{"t":41.1,"y":33,"s":"r"},{"t":41.7,"y":29,"s":"r"},{"t":42.3,"y":31,"s":"r"},{"t":42.8,"y":28,"s":"r"},
{"t":43.3,"y":42,"s":"r"},{"t":43.9,"y":40,"s":"r"},{"t":44.5,"y":44,"s":"r"},{"t":45.1,"y":38,"s":"r"},{"t":45.7,"y":41,"s":"r"},{"t":46.3,"y":43,"s":"r"},{"t":47,"y":40,"s":"r"},
{"t":47.9,"y":48,"s":"r"},{"t":48.5,"y":50,"s":"r"},{"t":49.1,"y":46,"s":"r"},{"t":49.7,"y":49,"s":"r"},{"t":50.3,"y":47,"s":"r"},{"t":50.9,"y":45,"s":"r"},{"t":51.5,"y":48,"s":"r"},
{"t":52.5,"y":41,"s":"r"},{"t":53.1,"y":38,"s":"r"},{"t":53.7,"y":36,"s":"r"},{"t":54.3,"y":39,"s":"r"},{"t":54.9,"y":37,"s":"r"},
{"t":55.6,"y":28,"s":"r"},{"t":56.2,"y":25,"s":"r"},{"t":56.8,"y":27,"s":"r"},{"t":57.4,"y":23,"s":"r"},{"t":58,"y":26,"s":"r"},{"t":58.6,"y":22,"s":"r"},{"t":59.2,"y":24,"s":"r"},{"t":59.8,"y":21,"s":"r"},{"t":60.4,"y":20,"s":"r"},{"t":60.7,"y":38,"s":"r"},
{"t":60.8,"y":18,"s":"r"},{"t":61.3,"y":16,"s":"r"},{"t":61.8,"y":19,"s":"r"},{"t":62.3,"y":15,"s":"r"},
{"t":63,"y":14,"s":"r"},{"t":63.8,"y":12,"s":"r"},{"t":64.5,"y":10,"s":"r"},{"t":65.2,"y":8,"s":"r"},{"t":65.9,"y":12,"s":"r"},{"t":66.5,"y":9,"s":"r"},{"t":67.1,"y":5,"s":"r"},{"t":67.7,"y":11,"s":"r"},{"t":68.3,"y":7,"s":"r"},{"t":68.9,"y":4,"s":"r"},{"t":69.5,"y":6,"s":"r"},{"t":70.1,"y":3,"s":"r"},{"t":70.7,"y":5,"s":"r"},{"t":71.3,"y":2,"s":"r"},{"t":71.9,"y":4,"s":"r"},{"t":72.4,"y":6,"s":"r"},
{"t":79.8,"y":66,"s":"r"},{"t":80.4,"y":63,"s":"r"},{"t":81,"y":61,"s":"r"},{"t":81.6,"y":65,"s":"r"},{"t":82.2,"y":62,"s":"r"},{"t":82.8,"y":60,"s":"r"},{"t":83.4,"y":64,"s":"r"},{"t":84,"y":62,"s":"r"},{"t":84.6,"y":66,"s":"r"},{"t":85.2,"y":61,"s":"r"},{"t":85.8,"y":63,"s":"r"},{"t":86.4,"y":60,"s":"r"},{"t":87,"y":64,"s":"r"},{"t":87.6,"y":62,"s":"r"},{"t":88.2,"y":65,"s":"r"},{"t":88.8,"y":58,"s":"r"},{"t":89.4,"y":63,"s":"r"},{"t":90,"y":61,"s":"r"},{"t":90.6,"y":64,"s":"r"},{"t":91.2,"y":62,"s":"r"},{"t":91.8,"y":60,"s":"r"},{"t":92.4,"y":63,"s":"r"},{"t":93,"y":65,"s":"r"},{"t":93.6,"y":61,"s":"r"},{"t":94.2,"y":59,"s":"r"},{"t":94.8,"y":63,"s":"r"},{"t":95.4,"y":62,"s":"r"},{"t":96,"y":64,"s":"r"},{"t":96.6,"y":60,"s":"r"},{"t":97.2,"y":63,"s":"r"},{"t":97.8,"y":61,"s":"r"},{"t":98.4,"y":65,"s":"r"},{"t":99,"y":62,"s":"r"},{"t":99.6,"y":60,"s":"r"},{"t":100.2,"y":64,"s":"r"},{"t":100.8,"y":62,"s":"r"},{"t":101.4,"y":59,"s":"r"},{"t":102,"y":63,"s":"r"},{"t":102.6,"y":61,"s":"r"},{"t":103.2,"y":64,"s":"r"},{"t":103.8,"y":62,"s":"r"},{"t":104.4,"y":60,"s":"r"},{"t":105,"y":63,"s":"r"},{"t":105.6,"y":65,"s":"r"},{"t":106.2,"y":61,"s":"r"},{"t":106.8,"y":64,"s":"r"},{"t":107.4,"y":62,"s":"r"},{"t":108,"y":60,"s":"r"},{"t":108.6,"y":63,"s":"r"},{"t":109.2,"y":65,"s":"r"},{"t":109.8,"y":62,"s":"r"},{"t":110.4,"y":64,"s":"r"},{"t":111,"y":61,"s":"r"},{"t":111.6,"y":63,"s":"r"},{"t":112.2,"y":66,"s":"r"},{"t":112.8,"y":64,"s":"r"},
{"t":113.8,"y":69,"s":"r"},{"t":114.4,"y":72,"s":"r"},{"t":115,"y":70,"s":"r"},{"t":115.6,"y":68,"s":"r"},{"t":116.2,"y":73,"s":"r"},{"t":116.8,"y":71,"s":"r"},{"t":117.4,"y":69,"s":"r"},{"t":118,"y":72,"s":"r"},{"t":118.6,"y":66,"s":"r"},
{"t":119.7,"y":101,"s":"r"},{"t":120.3,"y":104,"s":"r"},{"t":120.9,"y":99,"s":"r"},{"t":121.5,"y":102,"s":"r"},{"t":122.1,"y":100,"s":"r"},{"t":122.7,"y":98,"s":"r"},
{"t":123.8,"y":130,"s":"r"},{"t":124.4,"y":128,"s":"r"},{"t":125,"y":127,"s":"r"},{"t":125.6,"y":129,"s":"r"},{"t":126.2,"y":126,"s":"r"},
{"t":127.6,"y":157,"s":"r"},{"t":128.2,"y":160,"s":"r"},{"t":128.8,"y":155,"s":"r"},{"t":129.4,"y":158,"s":"r"},{"t":130,"y":156,"s":"r"},{"t":130.6,"y":159,"s":"r"},{"t":131.2,"y":161,"s":"r"},{"t":131.7,"y":187,"s":"r"},{"t":132.3,"y":189,"s":"r"},{"t":132.8,"y":184,"s":"r"},{"t":133.4,"y":159,"s":"r"},{"t":134,"y":157,"s":"r"},{"t":134.6,"y":160,"s":"r"},{"t":135.2,"y":158,"s":"r"},{"t":135.8,"y":156,"s":"r"},{"t":136.4,"y":159,"s":"r"},{"t":137,"y":161,"s":"r"},{"t":137.6,"y":158,"s":"r"},{"t":138.2,"y":160,"s":"r"},{"t":138.8,"y":157,"s":"r"},{"t":139.4,"y":151,"s":"r"},
{"t":140.2,"y":131,"s":"r"},{"t":140.8,"y":127,"s":"r"},{"t":141.4,"y":128,"s":"r"},{"t":142,"y":136,"s":"r"},{"t":142.6,"y":127,"s":"r"},{"t":143.2,"y":129,"s":"r"},
{"t":143.8,"y":101,"s":"r"},{"t":144.4,"y":99,"s":"r"},{"t":145,"y":97,"s":"r"},{"t":145.6,"y":100,"s":"r"},{"t":146.2,"y":96,"s":"r"},{"t":146.8,"y":98,"s":"r"},{"t":147.4,"y":97,"s":"r"},{"t":148,"y":99,"s":"r"},{"t":148.6,"y":95,"s":"r"},
{"t":149.2,"y":80,"s":"r"},{"t":149.8,"y":70,"s":"r"},{"t":150.4,"y":66,"s":"r"},{"t":151,"y":61,"s":"r"},{"t":151.6,"y":63,"s":"r"},{"t":152.2,"y":67,"s":"r"},{"t":152.8,"y":65,"s":"r"},{"t":153.4,"y":68,"s":"r"},{"t":154,"y":64,"s":"r"},{"t":154.6,"y":66,"s":"r"},{"t":155.2,"y":69,"s":"r"},{"t":155.8,"y":67,"s":"r"},
{"t":79.8,"y":4,"s":"r"},{"t":80.4,"y":7,"s":"r"},{"t":81,"y":2,"s":"r"},{"t":81.6,"y":6,"s":"r"},{"t":82.2,"y":3,"s":"r"},{"t":82.8,"y":8,"s":"r"},{"t":83.4,"y":5,"s":"r"},{"t":84,"y":7,"s":"r"},{"t":84.6,"y":4,"s":"r"},{"t":85.2,"y":9,"s":"r"},{"t":85.8,"y":6,"s":"r"},{"t":86.4,"y":3,"s":"r"},{"t":87,"y":7,"s":"r"},{"t":87.6,"y":5,"s":"r"},{"t":88.2,"y":8,"s":"r"},{"t":88.8,"y":4,"s":"r"},{"t":89.4,"y":6,"s":"r"},{"t":90,"y":9,"s":"r"},{"t":90.6,"y":5,"s":"r"},{"t":91.2,"y":7,"s":"r"},{"t":91.8,"y":10,"s":"r"},{"t":92.4,"y":6,"s":"r"},{"t":93,"y":4,"s":"r"},
{"t":93.8,"y":1,"s":"r"},{"t":94.4,"y":-1,"s":"r"},{"t":95,"y":3,"s":"r"},{"t":95.6,"y":0,"s":"r"},{"t":96.2,"y":-3,"s":"r"},{"t":96.8,"y":2,"s":"r"},{"t":97.4,"y":-1,"s":"r"},{"t":98,"y":4,"s":"r"},{"t":98.6,"y":1,"s":"r"},{"t":99.2,"y":-2,"s":"r"},{"t":99.8,"y":3,"s":"r"},{"t":100.4,"y":5,"s":"r"},{"t":101,"y":1,"s":"r"},{"t":101.6,"y":-1,"s":"r"},{"t":102.2,"y":2,"s":"r"},{"t":102.8,"y":6,"s":"r"},{"t":103.4,"y":3,"s":"r"},{"t":104,"y":0,"s":"r"},{"t":104.6,"y":4,"s":"r"},{"t":105.2,"y":2,"s":"r"},{"t":105.8,"y":-1,"s":"r"},{"t":106.4,"y":3,"s":"r"},{"t":107,"y":-3,"s":"r"},{"t":107.6,"y":1,"s":"r"},{"t":108.2,"y":4,"s":"r"},{"t":108.8,"y":2,"s":"r"},{"t":109.4,"y":6,"s":"r"},{"t":110,"y":3,"s":"r"},{"t":110.6,"y":5,"s":"r"},{"t":111.2,"y":1,"s":"r"},{"t":111.8,"y":4,"s":"r"},{"t":112.4,"y":-2,"s":"r"},{"t":113,"y":2,"s":"r"},{"t":113.6,"y":0,"s":"r"},{"t":114.2,"y":-1,"s":"r"},{"t":114.8,"y":3,"s":"r"},
{"t":115.3,"y":14,"s":"r"},{"t":115.9,"y":16,"s":"r"},{"t":116.5,"y":10,"s":"r"},{"t":117.1,"y":13,"s":"r"},{"t":117.7,"y":11,"s":"r"},{"t":118.3,"y":14,"s":"r"},
{"t":119.2,"y":26,"s":"r"},{"t":119.8,"y":22,"s":"r"},{"t":120.4,"y":29,"s":"r"},{"t":121,"y":21,"s":"r"},{"t":121.6,"y":24,"s":"r"},{"t":122.2,"y":25,"s":"r"},{"t":122.8,"y":22,"s":"r"},
{"t":123.4,"y":37,"s":"r"},{"t":124,"y":34,"s":"r"},{"t":124.6,"y":36,"s":"r"},{"t":125.2,"y":38,"s":"r"},{"t":125.8,"y":33,"s":"r"},{"t":126.4,"y":35,"s":"r"},{"t":127,"y":37,"s":"r"},
{"t":127.6,"y":44,"s":"r"},{"t":128.2,"y":46,"s":"r"},{"t":128.8,"y":48,"s":"r"},{"t":129.4,"y":47,"s":"r"},{"t":130,"y":44,"s":"r"},{"t":130.6,"y":45,"s":"r"},{"t":131.2,"y":43,"s":"r"},
{"t":131.9,"y":35,"s":"r"},{"t":132.5,"y":33,"s":"r"},{"t":133.1,"y":34,"s":"r"},{"t":133.7,"y":36,"s":"r"},{"t":134.3,"y":32,"s":"r"},
{"t":135.3,"y":28,"s":"r"},{"t":135.9,"y":26,"s":"r"},{"t":136.5,"y":21,"s":"r"},{"t":137.1,"y":25,"s":"r"},{"t":137.7,"y":39,"s":"r"},
{"t":138.4,"y":16,"s":"r"},{"t":139,"y":12,"s":"r"},{"t":139.6,"y":10,"s":"r"},{"t":140.2,"y":13,"s":"r"},{"t":140.8,"y":9,"s":"r"},{"t":141.4,"y":12,"s":"r"},{"t":142,"y":14,"s":"r"},{"t":142.6,"y":11,"s":"r"},{"t":143.2,"y":8,"s":"r"},{"t":143.8,"y":13,"s":"r"},{"t":144.4,"y":10,"s":"r"},{"t":145,"y":12,"s":"r"},
{"t":145.7,"y":5,"s":"r"},{"t":146.3,"y":1,"s":"r"},{"t":146.9,"y":4,"s":"r"},{"t":147.5,"y":2,"s":"r"},{"t":148.1,"y":6,"s":"r"},{"t":148.7,"y":3,"s":"r"},{"t":149.3,"y":0,"s":"r"},{"t":149.9,"y":4,"s":"r"},
{"t":159.5,"y":59,"s":"r"},{"t":160.1,"y":57,"s":"r"},{"t":160.7,"y":60,"s":"r"},{"t":161.3,"y":56,"s":"r"},{"t":161.9,"y":58,"s":"r"},{"t":162.5,"y":55,"s":"r"},{"t":163.1,"y":59,"s":"r"},{"t":163.7,"y":57,"s":"r"},{"t":164.3,"y":60,"s":"r"},{"t":164.9,"y":55,"s":"r"},{"t":165.5,"y":58,"s":"r"},{"t":166.1,"y":61,"s":"r"},{"t":166.7,"y":56,"s":"r"},{"t":167.3,"y":58,"s":"r"},{"t":167.9,"y":54,"s":"r"},{"t":168.5,"y":57,"s":"r"},{"t":169.1,"y":59,"s":"r"},{"t":169.7,"y":56,"s":"r"},{"t":170.3,"y":58,"s":"r"},{"t":170.9,"y":60,"s":"r"},{"t":171.5,"y":57,"s":"r"},{"t":172.1,"y":55,"s":"r"},{"t":172.7,"y":58,"s":"r"},{"t":173.3,"y":53,"s":"r"},{"t":173.9,"y":51,"s":"r"},{"t":174.5,"y":54,"s":"r"},{"t":175.1,"y":49,"s":"r"},{"t":175.7,"y":47,"s":"r"},{"t":176.3,"y":52,"s":"r"},{"t":176.9,"y":45,"s":"r"},{"t":177.5,"y":55,"s":"r"},{"t":178.1,"y":57,"s":"r"},{"t":178.7,"y":59,"s":"r"},{"t":179.3,"y":56,"s":"r"},{"t":179.9,"y":58,"s":"r"},{"t":180.5,"y":51,"s":"r"},{"t":181.1,"y":57,"s":"r"},{"t":181.7,"y":59,"s":"r"},{"t":182.3,"y":56,"s":"r"},{"t":182.9,"y":64,"s":"r"},{"t":183.5,"y":62,"s":"r"},{"t":184.1,"y":58,"s":"r"},{"t":184.7,"y":53,"s":"r"},{"t":185.3,"y":57,"s":"r"},{"t":185.9,"y":60,"s":"r"},{"t":186.5,"y":58,"s":"r"},{"t":187.1,"y":61,"s":"r"},{"t":187.7,"y":59,"s":"r"},{"t":188.3,"y":62,"s":"r"},{"t":188.9,"y":58,"s":"r"},{"t":189.5,"y":60,"s":"r"},{"t":190.1,"y":63,"s":"r"},{"t":190.7,"y":61,"s":"r"},{"t":191.3,"y":59,"s":"r"},{"t":191.9,"y":62,"s":"r"},{"t":192.5,"y":58,"s":"r"},{"t":193.1,"y":60,"s":"r"},{"t":193.7,"y":57,"s":"r"},{"t":194.3,"y":59,"s":"r"},{"t":194.9,"y":55,"s":"r"},{"t":195.5,"y":58,"s":"r"},{"t":196.1,"y":56,"s":"r"},{"t":196.7,"y":53,"s":"r"},{"t":197.3,"y":57,"s":"r"},{"t":197.9,"y":55,"s":"r"},{"t":198.5,"y":58,"s":"r"},
{"t":199,"y":85,"s":"r"},{"t":199.6,"y":88,"s":"r"},{"t":200.2,"y":84,"s":"r"},{"t":200.8,"y":81,"s":"r"},{"t":201.4,"y":87,"s":"r"},{"t":202,"y":86,"s":"r"},{"t":202.6,"y":80,"s":"r"},
{"t":203.1,"y":120,"s":"r"},{"t":203.7,"y":118,"s":"r"},{"t":204.3,"y":114,"s":"r"},{"t":204.9,"y":113,"s":"r"},{"t":205.5,"y":117,"s":"r"},{"t":206.1,"y":116,"s":"r"},{"t":206.7,"y":119,"s":"r"},
{"t":207.3,"y":148,"s":"r"},{"t":207.9,"y":146,"s":"r"},{"t":208.5,"y":150,"s":"r"},{"t":209.1,"y":145,"s":"r"},{"t":209.7,"y":147,"s":"r"},{"t":210.3,"y":144,"s":"r"},{"t":210.9,"y":148,"s":"r"},
{"t":211.5,"y":168,"s":"r"},{"t":212.1,"y":180,"s":"r"},{"t":212.7,"y":183,"s":"r"},{"t":213.3,"y":181,"s":"r"},{"t":213.9,"y":186,"s":"r"},{"t":214.5,"y":182,"s":"r"},{"t":215,"y":176,"s":"r"},
{"t":215.5,"y":156,"s":"r"},{"t":216.1,"y":153,"s":"r"},{"t":216.7,"y":152,"s":"r"},{"t":217.3,"y":150,"s":"r"},{"t":217.9,"y":151,"s":"r"},{"t":218.5,"y":153,"s":"r"},{"t":219.1,"y":145,"s":"r"},
{"t":219.7,"y":122,"s":"r"},{"t":220.3,"y":120,"s":"r"},{"t":220.9,"y":118,"s":"r"},{"t":221.5,"y":117,"s":"r"},{"t":222.1,"y":115,"s":"r"},{"t":222.7,"y":116,"s":"r"},
{"t":223.4,"y":96,"s":"r"},{"t":224,"y":91,"s":"r"},{"t":224.6,"y":90,"s":"r"},{"t":225.2,"y":88,"s":"r"},{"t":225.8,"y":87,"s":"r"},{"t":226.4,"y":89,"s":"r"},{"t":227,"y":90,"s":"r"},{"t":227.6,"y":87,"s":"r"},
{"t":228.6,"y":62,"s":"r"},{"t":229,"y":67,"s":"r"},{"t":229.2,"y":60,"s":"r"},{"t":229.8,"y":58,"s":"r"},{"t":230.4,"y":59,"s":"r"},{"t":231,"y":56,"s":"r"},{"t":231.6,"y":58,"s":"r"},{"t":232.2,"y":61,"s":"r"},{"t":232.8,"y":57,"s":"r"},{"t":233.4,"y":55,"s":"r"},{"t":234,"y":59,"s":"r"},{"t":234.6,"y":57,"s":"r"},{"t":235.2,"y":60,"s":"r"},{"t":235.8,"y":56,"s":"r"},{"t":236.4,"y":58,"s":"r"},{"t":237,"y":55,"s":"r"},{"t":237.6,"y":57,"s":"r"},{"t":238.2,"y":54,"s":"r"},{"t":238.8,"y":56,"s":"r"},
{"t":159.5,"y":1,"s":"r"},{"t":160.1,"y":3,"s":"r"},{"t":160.7,"y":-1,"s":"r"},{"t":161.3,"y":2,"s":"r"},{"t":161.9,"y":0,"s":"r"},{"t":162.5,"y":-2,"s":"r"},{"t":163.1,"y":1,"s":"r"},{"t":163.7,"y":3,"s":"r"},{"t":164.3,"y":-1,"s":"r"},{"t":164.9,"y":0,"s":"r"},{"t":165.5,"y":2,"s":"r"},{"t":166.1,"y":-3,"s":"r"},{"t":166.7,"y":1,"s":"r"},{"t":167.3,"y":3,"s":"r"},{"t":167.9,"y":0,"s":"r"},{"t":168.5,"y":-2,"s":"r"},{"t":169.1,"y":2,"s":"r"},{"t":169.7,"y":1,"s":"r"},{"t":170.3,"y":-1,"s":"r"},{"t":170.9,"y":3,"s":"r"},{"t":171.5,"y":0,"s":"r"},{"t":172.1,"y":2,"s":"r"},{"t":172.7,"y":-2,"s":"r"},{"t":173.3,"y":1,"s":"r"},{"t":173.9,"y":4,"s":"r"},{"t":174.5,"y":7,"s":"r"},{"t":175.1,"y":2,"s":"r"},{"t":175.7,"y":0,"s":"r"},{"t":176.3,"y":3,"s":"r"},{"t":176.9,"y":-1,"s":"r"},{"t":177.5,"y":1,"s":"r"},{"t":178.1,"y":-3,"s":"r"},{"t":178.7,"y":2,"s":"r"},{"t":179.3,"y":0,"s":"r"},{"t":179.9,"y":3,"s":"r"},{"t":180.5,"y":1,"s":"r"},{"t":181.1,"y":-1,"s":"r"},{"t":181.7,"y":2,"s":"r"},{"t":182.3,"y":0,"s":"r"},{"t":182.9,"y":3,"s":"r"},{"t":183.5,"y":1,"s":"r"},{"t":184.1,"y":-2,"s":"r"},{"t":184.7,"y":2,"s":"r"},{"t":185.3,"y":0,"s":"r"},{"t":185.9,"y":3,"s":"r"},{"t":186.5,"y":1,"s":"r"},{"t":187.1,"y":-1,"s":"r"},{"t":187.7,"y":2,"s":"r"},{"t":188.3,"y":0,"s":"r"},{"t":188.9,"y":-2,"s":"r"},{"t":189.5,"y":-5,"s":"r"},{"t":190.1,"y":-7,"s":"r"},{"t":190.7,"y":-9,"s":"r"},{"t":191.3,"y":-4,"s":"r"},{"t":191.9,"y":1,"s":"r"},{"t":192.5,"y":-1,"s":"r"},{"t":193.1,"y":2,"s":"r"},{"t":193.7,"y":0,"s":"r"},{"t":194.3,"y":1,"s":"r"},
{"t":195,"y":16,"s":"r"},{"t":195.6,"y":13,"s":"r"},{"t":196.2,"y":11,"s":"r"},{"t":196.8,"y":15,"s":"r"},{"t":197.4,"y":12,"s":"r"},{"t":198,"y":17,"s":"r"},{"t":198.6,"y":14,"s":"r"},
{"t":199.3,"y":28,"s":"r"},{"t":199.9,"y":25,"s":"r"},{"t":200.5,"y":31,"s":"r"},{"t":201.1,"y":27,"s":"r"},{"t":201.7,"y":24,"s":"r"},{"t":202.3,"y":26,"s":"r"},
{"t":203.3,"y":40,"s":"r"},{"t":203.9,"y":38,"s":"r"},{"t":204.5,"y":36,"s":"r"},{"t":205.1,"y":39,"s":"r"},{"t":205.7,"y":37,"s":"r"},{"t":206.3,"y":41,"s":"r"},{"t":206.9,"y":36,"s":"r"},
{"t":207.4,"y":44,"s":"r"},{"t":208,"y":50,"s":"r"},{"t":208.6,"y":48,"s":"r"},{"t":209.2,"y":49,"s":"r"},{"t":209.8,"y":46,"s":"r"},{"t":210.4,"y":48,"s":"r"},{"t":211,"y":43,"s":"r"},
{"t":211.6,"y":38,"s":"r"},{"t":212.2,"y":35,"s":"r"},{"t":212.8,"y":37,"s":"r"},{"t":213.4,"y":34,"s":"r"},{"t":214,"y":36,"s":"r"},{"t":214.6,"y":33,"s":"r"},
{"t":215.5,"y":28,"s":"r"},{"t":216.1,"y":26,"s":"r"},{"t":216.7,"y":24,"s":"r"},{"t":217.3,"y":27,"s":"r"},{"t":217.9,"y":23,"s":"r"},{"t":218.5,"y":25,"s":"r"},
{"t":219.3,"y":19,"s":"r"},{"t":219.9,"y":16,"s":"r"},{"t":220.5,"y":14,"s":"r"},{"t":221.1,"y":12,"s":"r"},{"t":221.7,"y":15,"s":"r"},{"t":222.3,"y":11,"s":"r"},{"t":222.9,"y":13,"s":"r"},{"t":223.5,"y":10,"s":"r"},{"t":224.1,"y":12,"s":"r"},{"t":224.7,"y":9,"s":"r"},
{"t":225.7,"y":6,"s":"r"},{"t":226.3,"y":4,"s":"r"},{"t":226.9,"y":2,"s":"r"},{"t":227.5,"y":5,"s":"r"},{"t":228.1,"y":3,"s":"r"},{"t":228.7,"y":0,"s":"r"},{"t":229.3,"y":1,"s":"r"},{"t":229.9,"y":-1,"s":"r"},{"t":230.5,"y":3,"s":"r"},{"t":231.1,"y":0,"s":"r"}
],
"steps":[
{"t":-0.9,"y":61.8,"s":"b","g":"1ub"},{"t":4.85,"y":91.5,"s":"b","g":"1ub"},{"t":9.1,"y":122,"s":"b","g":"1ub"},{"t":13.3,"y":152,"s":"b","g":"1ub"},{"t":17.4,"y":185.4,"s":"b","g":"1ub"},{"t":21.4,"y":162,"s":"b","g":"1ub"},{"t":25.1,"y":131,"s":"b","g":"1ub"},{"t":29,"y":104.3,"s":"b","g":"1ub"},{"t":33,"y":69.3,"s":"b","g":"1ub"},{"t":59.8,"y":50.3,"s":"b","g":"1ub"},{"t":69,"y":50.3,"s":"b","g":"1ub"},
{"t":-0.9,"y":62.4,"s":"r","g":"1ur"},{"t":37,"y":96.2,"s":"r","g":"1ur"},{"t":41.1,"y":125,"s":"r","g":"1ur"},{"t":45.1,"y":160.9,"s":"r","g":"1ur"},{"t":49.5,"y":191.5,"s":"r","g":"1ur"},{"t":53.2,"y":164.3,"s":"r","g":"1ur"},{"t":57.8,"y":132.6,"s":"r","g":"1ur"},{"t":61.1,"y":105.2,"s":"r","g":"1ur"},{"t":65.9,"y":74.5,"s":"r","g":"1ur"},{"t":69.2,"y":74.5,"s":"r","g":"1ur"},
{"t":-0.9,"y":1.2,"s":"b","g":"1lb"},{"t":3.3,"y":10.4,"s":"b","g":"1lb"},{"t":7.16,"y":22.3,"s":"b","g":"1lb"},{"t":11.4,"y":32.3,"s":"b","g":"1lb"},{"t":15.25,"y":40.2,"s":"b","g":"1lb"},{"t":19.1,"y":32.8,"s":"b","g":"1lb"},{"t":23.3,"y":19.1,"s":"b","g":"1lb"},{"t":27.2,"y":9.1,"s":"b","g":"1lb"},{"t":30.5,"y":-1.5,"s":"b","g":"1lb"},{"t":60.3,"y":7,"s":"b","g":"1lb"},{"t":60.6,"y":-5.5,"s":"b","g":"1lb"},{"t":62.2,"y":-20,"s":"b","g":"1lb"},{"t":62.8,"y":-6.2,"s":"b","g":"1lb"},{"t":72.6,"y":-6.2,"s":"b","g":"1lb"},
{"t":-0.9,"y":-2.5,"s":"r","g":"1lr"},{"t":1.4,"y":7.3,"s":"r","g":"1lr"},{"t":35.3,"y":20.2,"s":"r","g":"1lr"},{"t":36.3,"y":38.6,"s":"r","g":"1lr"},{"t":36.6,"y":18.6,"s":"r","g":"1lr"},{"t":39.1,"y":32.3,"s":"r","g":"1lr"},{"t":43,"y":40.8,"s":"r","g":"1lr"},{"t":47.6,"y":47.1,"s":"r","g":"1lr"},{"t":52.2,"y":38.1,"s":"r","g":"1lr"},{"t":55.3,"y":25.4,"s":"r","g":"1lr"},{"t":60.5,"y":16.5,"s":"r","g":"1lr"},{"t":62.6,"y":-20,"s":"r","g":"1lr"},{"t":63.8,"y":15.4,"s":"r","g":"1lr"},{"t":64.9,"y":6.2,"s":"r","g":"1lr"},{"t":72.6,"y":6.2,"s":"r","g":"1lr"},
{"t":79.6,"y":59.8,"s":"b","g":"2ub"},{"t":87.3,"y":91.2,"s":"b","g":"2ub"},{"t":91.5,"y":127.5,"s":"b","g":"2ub"},{"t":94.2,"y":153.5,"s":"b","g":"2ub"},{"t":99.2,"y":184.4,"s":"b","g":"2ub"},{"t":103.3,"y":157.7,"s":"b","g":"2ub"},{"t":107.3,"y":121.2,"s":"b","g":"2ub"},{"t":111.3,"y":90.4,"s":"b","g":"2ub"},{"t":115.2,"y":58.9,"s":"b","g":"2ub"},{"t":141.6,"y":56.4,"s":"b","g":"2ub"},{"t":156.2,"y":56.4,"s":"b","g":"2ub"},
{"t":79.6,"y":62.9,"s":"r","g":"2ur"},{"t":113.5,"y":70.1,"s":"r","g":"2ur"},{"t":119.4,"y":100.1,"s":"r","g":"2ur"},{"t":123.5,"y":127.9,"s":"r","g":"2ur"},{"t":127.3,"y":157.4,"s":"r","g":"2ur"},{"t":131.5,"y":185.4,"s":"r","g":"2ur"},{"t":132.9,"y":157.4,"s":"r","g":"2ur"},{"t":139.9,"y":128.6,"s":"r","g":"2ur"},{"t":143.5,"y":98.3,"s":"r","g":"2ur"},{"t":148.9,"y":66.9,"s":"r","g":"2ur"},{"t":156.6,"y":66.9,"s":"r","g":"2ur"},
{"t":79.6,"y":0.4,"s":"b","g":"2lb"},{"t":83,"y":9.6,"s":"b","g":"2lb"},{"t":89.6,"y":17,"s":"b","g":"2lb"},{"t":91.5,"y":24.7,"s":"b","g":"2lb"},{"t":95.4,"y":37.1,"s":"b","g":"2lb"},{"t":98.8,"y":23.7,"s":"b","g":"2lb"},{"t":103.5,"y":13.8,"s":"b","g":"2lb"},{"t":106.9,"y":3.6,"s":"b","g":"2lb"},{"t":110.9,"y":-6.2,"s":"b","g":"2lb"},{"t":140,"y":-7.6,"s":"b","g":"2lb"},{"t":150.4,"y":-7.6,"s":"b","g":"2lb"},
{"t":79.6,"y":4.9,"s":"r","g":"2lr"},{"t":93.2,"y":1.9,"s":"r","g":"2lr"},{"t":115,"y":12.2,"s":"r","g":"2lr"},{"t":118.9,"y":23.9,"s":"r","g":"2lr"},{"t":123.1,"y":35,"s":"r","g":"2lr"},{"t":127.3,"y":45,"s":"r","g":"2lr"},{"t":131.6,"y":33.9,"s":"r","g":"2lr"},{"t":135,"y":27,"s":"r","g":"2lr"},{"t":138.1,"y":11.5,"s":"r","g":"2lr"},{"t":145.4,"y":2.9,"s":"r","g":"2lr"},{"t":150.4,"y":2.9,"s":"r","g":"2lr"},
{"t":159.3,"y":61.9,"s":"b","g":"3ub"},{"t":167,"y":87.7,"s":"b","g":"3ub"},{"t":171,"y":118.7,"s":"b","g":"3ub"},{"t":175.3,"y":145.8,"s":"b","g":"3ub"},{"t":179,"y":174.5,"s":"b","g":"3ub"},{"t":183,"y":147.1,"s":"b","g":"3ub"},{"t":187.2,"y":115.2,"s":"b","g":"3ub"},{"t":190.7,"y":88.3,"s":"b","g":"3ub"},{"t":195,"y":56.1,"s":"b","g":"3ub"},{"t":224,"y":67.4,"s":"b","g":"3ub"},{"t":227.2,"y":49,"s":"b","g":"3ub"},{"t":239.2,"y":49,"s":"b","g":"3ub"},
{"t":159.3,"y":56.8,"s":"r","g":"3ur"},{"t":198.7,"y":85.8,"s":"r","g":"3ur"},{"t":202.8,"y":115.9,"s":"r","g":"3ur"},{"t":207,"y":145.5,"s":"r","g":"3ur"},{"t":211.2,"y":179.4,"s":"r","g":"3ur"},{"t":215.2,"y":150.4,"s":"r","g":"3ur"},{"t":219.4,"y":118.7,"s":"r","g":"3ur"},{"t":223.1,"y":89.5,"s":"r","g":"3ur"},{"t":228.3,"y":57.4,"s":"r","g":"3ur"},{"t":239.2,"y":57.4,"s":"r","g":"3ur"},
{"t":159.3,"y":1.7,"s":"b","g":"3lb"},{"t":162.2,"y":11.2,"s":"b","g":"3lb"},{"t":166.9,"y":20.7,"s":"b","g":"3lb"},{"t":170.9,"y":30,"s":"b","g":"3lb"},{"t":174.9,"y":40.8,"s":"b","g":"3lb"},{"t":179,"y":31.8,"s":"b","g":"3lb"},{"t":183,"y":17.7,"s":"b","g":"3lb"},{"t":187.2,"y":-2.3,"s":"b","g":"3lb"},{"t":222.3,"y":-5.7,"s":"b","g":"3lb"},{"t":231.3,"y":-5.7,"s":"b","g":"3lb"},
{"t":159.3,"y":0.6,"s":"r","g":"3lr"},{"t":194.7,"y":14.4,"s":"r","g":"3lr"},{"t":199,"y":26.2,"s":"r","g":"3lr"},{"t":203,"y":37.8,"s":"r","g":"3lr"},{"t":207.1,"y":47.8,"s":"r","g":"3lr"},{"t":211.3,"y":36,"s":"r","g":"3lr"},{"t":215.2,"y":25.1,"s":"r","g":"3lr"},{"t":219,"y":13.3,"s":"r","g":"3lr"},{"t":225.4,"y":2.5,"s":"r","g":"3lr"},{"t":231.3,"y":2.5,"s":"r","g":"3lr"}
]
},
"encoding":{
"x":{"field":"t","type":"quantitative","scale":{"domain":[-2.3,239.2],"nice":false,"zero":false},
"axis":{"values":[0,50,100,150,200],"title":"time (s)","grid":false,"domainColor":"black","domainWidth":7,"domainCap":"square","tickColor":"black","tickWidth":6,"tickSize":23,"labelPadding":12,"labelFont":"Liberation Sans","labelFontWeight":"bold","labelFontSize":38,"labelColor":"black","labelFlush":false,"labelOverlap":false,"titleFont":"Liberation Sans","titleFontWeight":"bold","titleFontSize":40,"titleColor":"black","titleX":536,"titleY":101,"titleBaseline":"alphabetic","titleAlign":"center"}},
"y":{"field":"y","type":"quantitative","scale":{"domain":[-22.8,200],"nice":false,"zero":false},
"axis":{"values":[0,50,100,150,200],"title":"position (nm)","grid":false,"domainColor":"black","domainWidth":7,"domainCap":"square","tickColor":"black","tickWidth":6,"tickSize":22,"labelPadding":12,"labelFont":"DejaVu Sans","labelFontWeight":"bold","labelFontSize":31,"labelColor":"black","labelFlush":false,"labelOverlap":false,"titleFont":"Liberation Sans","titleFontWeight":"bold","titleFontSize":39,"titleColor":"black","titleX":-151,"titleY":343,"titleAngle":270,"titleBaseline":"alphabetic","titleAlign":"center"}}
},
"layer":[
{"data":{"name":"pts"},
"mark":{"type":"point","filled":false,"strokeWidth":3.2,"opacity":1,"clip":true},
"encoding":{
"color":{"field":"s","type":"nominal","scale":{"domain":["b","r"],"range":["#7474c0","#f08080"]},"legend":null},
"shape":{"field":"s","type":"nominal","scale":{"domain":["b","r"],"range":["square","circle"]},"legend":null},
"size":{"field":"s","type":"nominal","scale":{"domain":["b","r"],"range":[62,46]},"legend":null}
}},
{"data":{"name":"steps"},
"mark":{"type":"line","interpolate":"step-after","strokeWidth":4,"clip":true},
"encoding":{
"stroke":{"field":"s","type":"nominal","scale":{"domain":["b","r"],"range":["#2c3c9f","#a11f1f"]},"legend":null},
"detail":{"field":"g","type":"nominal"}
}}
]
}
